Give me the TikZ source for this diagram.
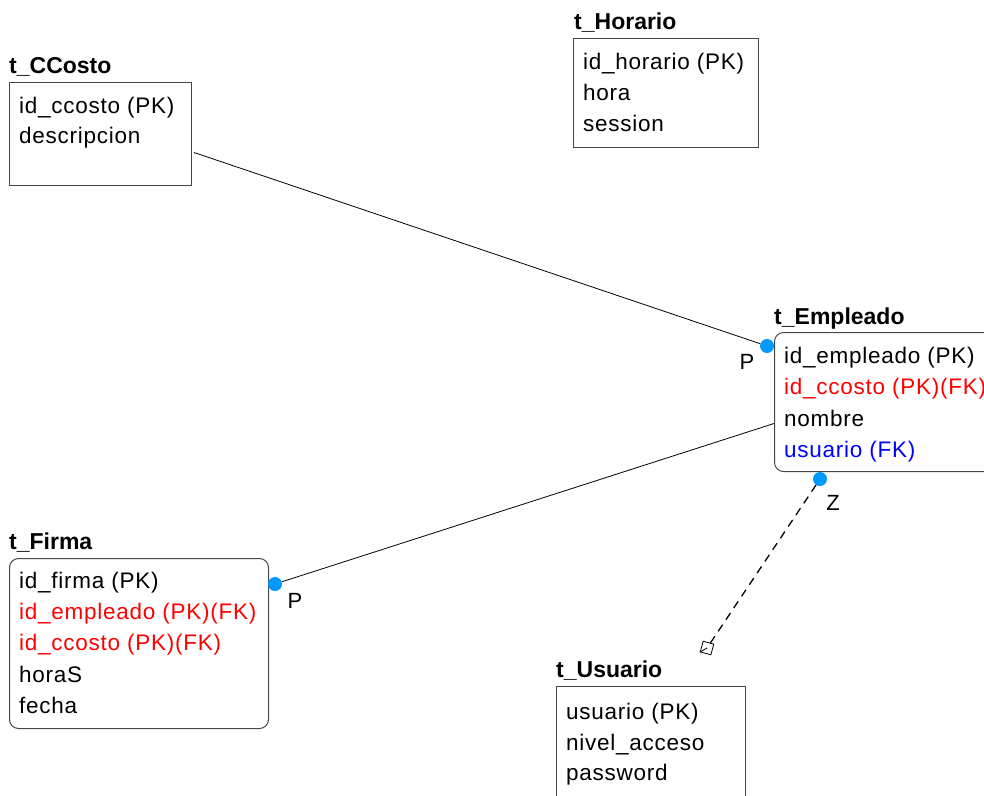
\documentclass[tikz,border=0pt]{standalone}
\usepackage{fontspec}
\setmainfont{Liberation Sans}
\newfontfamily\fieldfont[LetterSpace=3.3]{Liberation Sans}
\definecolor{dotblue}{RGB}{0,153,255}
\definecolor{frame}{RGB}{70,70,70}
\begin{document}
\begin{tikzpicture}[x=1pt,y=-1pt,
  tbl/.style={draw=frame, line width=1pt, anchor=north west, inner sep=0},
  rtbl/.style={tbl, rounded corners=9pt},
  title/.style={anchor=base west, inner sep=0, font=\fontsize{23}{27}\selectfont\bfseries},
  field/.style={anchor=base west, inner sep=0, font=\fieldfont\fontsize{22.5}{27}\selectfont},
  fk/.style={field, text=red},
  ufk/.style={field, text=blue},
  rel/.style={line width=0.8pt},
  dot/.style={circle, fill=dotblue, inner sep=0, minimum size=14pt},
  card/.style={anchor=center, inner sep=0, font=\fontsize{22}{26}\selectfont},
  endmark/.style={draw, line width=0.8pt, rectangle, rotate=-15, minimum size=11pt, inner sep=0}]

\useasboundingbox (0,0) rectangle (984,795);
\clip (0,0) rectangle (984,795);

% t_Horario
\node[title] (thor) at (574,29) {t\_Horario};
\node[tbl, minimum width=185pt, minimum height=109pt] (horario) at (573,38) {};
\node[field] (h1) at (583,69) {id\_horario (PK)};
\node[field] (h2) at (583,100) {hora};
\node[field] (h3) at (583,131) {session};

% t_CCosto
\node[title] (tcc) at (9,73) {t\_CCosto};
\node[tbl, minimum width=182pt, minimum height=103pt] (ccosto) at (9,82) {};
\node[field] (c1) at (19,113) {id\_ccosto (PK)};
\node[field] (c2) at (19,143) {descripcion};

% t_Empleado
\node[title] (temp) at (774,324) {t\_Empleado};
\node[rtbl, minimum width=240pt, minimum height=139pt] (empleado) at (774,332) {};
\node[field] (e1) at (784,363) {id\_empleado (PK)};
\node[fk] (e2) at (784,394) {id\_ccosto (PK)(FK)};
\node[field] (e3) at (784,426) {nombre};
\node[ufk] (e4) at (784,457) {usuario (FK)};

% t_Firma
\node[title] (tfir) at (9,549) {t\_Firma};
\node[rtbl, minimum width=259pt, minimum height=170pt] (firma) at (9,558) {};
\node[field] (f1) at (19,588) {id\_firma (PK)};
\node[fk] (f2) at (19,619) {id\_empleado (PK)(FK)};
\node[fk] (f3) at (19,650) {id\_ccosto (PK)(FK)};
\node[field] (f4) at (19,682) {horaS};
\node[field] (f5) at (19,713) {fecha};

% t_Usuario
\node[title] (tusu) at (556,677) {t\_Usuario};
\node[tbl, minimum width=189pt, minimum height=130pt] (usuario) at (556,686) {};
\node[field] (u1) at (566,719) {usuario (PK)};
\node[field] (u2) at (566,750) {nivel\_acceso};
\node[field] (u3) at (566,780) {password};

% relationship ends
\node[dot] (pe) at (767,346) {};
\node[dot] (pf) at (275,584) {};
\node[dot] (ze) at (820,479) {};
\node[endmark] (du) at (707,648) {};

% relationships
\draw[rel] ([xshift=2pt,yshift=-18.5pt]ccosto.east) -- (pe);
\draw[rel] ([yshift=-21.5pt]empleado.west) -- (pf);
\draw[rel, line width=1.3pt, dash pattern=on 8pt off 6pt] (ze) -- (du.center);
\draw[rel] (du.center) -- (du.south west);

% cardinality labels
\node[card] (lp1) at (747,362) {P};
\node[card] (lp2) at (295,601) {P};
\node[card] (lz) at (833,503) {Z};
\end{tikzpicture}
\end{document}
